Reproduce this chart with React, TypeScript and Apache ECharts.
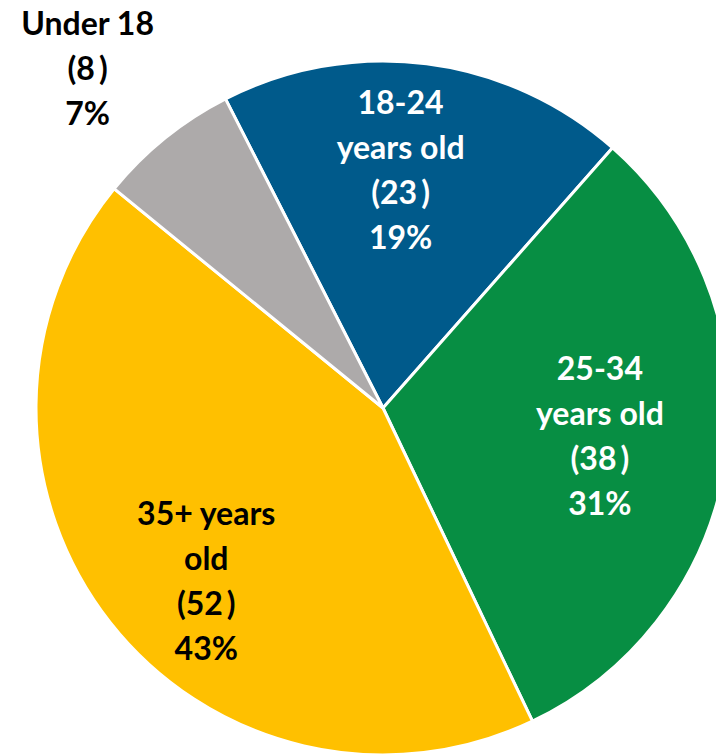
import { useEffect, useRef } from "react";
import * as echarts from "echarts";

const categories = ["18-24\nyears old", "25-34\nyears old", "35+ years\nold", "Under 18"];
const values = [23, 38, 52, 8];
const colors = ["#005A8B", "#078E43", "#FFC000", "#ADAAAA"];
const labelColors = ["#FFFFFF", "#FFFFFF", "#000000", "#000000"];
// label placement: fraction of radius and angle shift (deg) from slice mid-angle
const LABEL_PLACEMENT = [
  { radius: 0.69, angle: 3 },
  { radius: 0.63, angle: 0.8 },
  { radius: 0.71, angle: 6 },
  { radius: 1.3, angle: 2 },
];

export default function App() {
  const ref = useRef<HTMLDivElement>(null);
  useEffect(() => {
    document.body.style.margin = "0";
    const chart = echarts.init(ref.current!, null, { renderer: "svg" });
    const cx = 383, cy = 408, R = 347;
    chart.setOption({
      animation: false,
      series: [
        {
          type: "pie",
          center: [cx, cy],
          radius: [0, R],
          startAngle: 117,
          clockwise: true,
          percentPrecision: 0,
          silent: true,
          data: categories.map((name, i) => ({
            name,
            value: values[i],
            itemStyle: { color: colors[i] },
            label: { color: labelColors[i] },
          })),
          itemStyle: { borderColor: "#FFFFFF", borderWidth: 3 },
          label: {
            show: true,
            position: "inside",
            formatter: (p: any) => `${p.name}\n(${p.value}\u2009)\n${p.percent}%`,
            fontFamily: "Lato",
            fontWeight: "bold",
            fontSize: 32,
            lineHeight: 45,
            align: "center",
          },
          labelLine: { show: false },
          labelLayout: (p: any) => {
            const r = p.labelRect;
            const lx = r.x + r.width / 2;
            const ly = r.y + r.height / 2;
            const ang = Math.atan2(cy - ly, lx - cx);
            const place = LABEL_PLACEMENT[p.dataIndex];
            const a = ang + (place.angle * Math.PI) / 180;
            const nx = cx + place.radius * R * Math.cos(a);
            const ny = cy - place.radius * R * Math.sin(a);
            return { dx: nx - lx, dy: ny - ly };
          },
          emphasis: { disabled: true },
        },
      ],
    });
    return () => chart.dispose();
  }, []);
  return <div ref={ref} style={{ width: 716, height: 755 }} />;
}
